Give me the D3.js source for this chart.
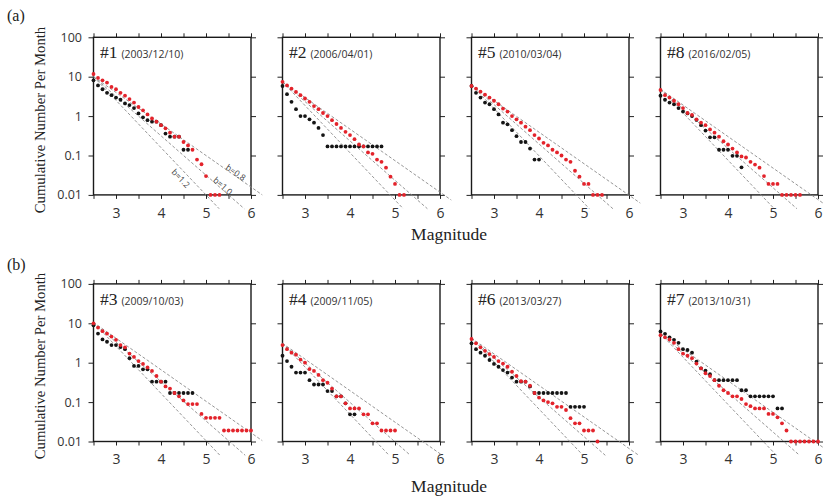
<!DOCTYPE html>
<html>
<head>
<meta charset="utf-8">
<style>
  body { margin: 0; background: #fff; }
  svg { display: block; }
  .tick text { font-family: "Open Sans", sans-serif; fill: #333; }
  .tick line { stroke: #222; stroke-width: 1; }
  .domain { display: none; }
  .serif { font-family: "Liberation Serif", "Times New Roman", serif; fill: #222; }
</style>
</head>
<body>
<svg id="chart" width="823" height="497"></svg>
<script src="https://d3js.org/d3.v7.min.js"></script>
<script>
// magnitude bins (x categories)
var mags = [2.5, 2.6, 2.7, 2.8, 2.9, 3.0, 3.1, 3.2, 3.3, 3.4, 3.5, 3.6, 3.7, 3.8, 3.9, 4.0, 4.1, 4.2,
            4.3, 4.4, 4.5, 4.6, 4.7, 4.8, 4.9, 5.0, 5.1, 5.2, 5.3, 5.4, 5.5, 5.6, 5.7, 5.8, 5.9, 6.0];

var panelIds = ["#1", "#2", "#5", "#8", "#3", "#4", "#6", "#7"];
var panelDates = ["(2003/12/10)", "(2006/04/01)", "(2010/03/04)", "(2016/02/05)",
                  "(2009/10/03)", "(2009/11/05)", "(2013/03/27)", "(2013/10/31)"];
// cumulative number at M=2.5 where the reference b-lines start
var anchors = [10, 7.4, 6.2, 4.8, 10.5, 3.1, 4.2, 5.5];
var bValues = [0.8, 1.0, 1.2];

var xTicks = [2.5, 3, 3.5, 4, 4.5, 5, 5.5, 6];
var yTicks = [0.01, 0.1, 1, 10, 100];
var yTickLabels = ["0.01", "0.1", "1", "10", "100"];

// series start at M=2.5, one value per 0.1 magnitude bin
var red1 = [11.7, 9.3, 8.1, 7.1, 5.5, 4.8, 3.9, 3.3, 2.7, 2.2, 1.7, 1.4, 1.1, 0.87, 0.72, 0.59, 0.49, 0.38,
            0.30, 0.30, 0.22, 0.18, 0.14, 0.079, 0.060, 0.030, 0.01, 0.01, 0.01];
var black1 = [8.1, 6.0, 4.8, 3.9, 3.4, 2.95, 2.6, 2.1, 1.9, 1.6, 1.17, 0.93, 0.79, 0.72, 0.72, 0.59, 0.36, 0.30,
              0.30, 0.30, 0.14, 0.14];

var red2 = [7.4, 6.0, 5.0, 4.1, 3.4, 2.8, 2.3, 1.8, 1.5, 1.2, 1.0, 0.79, 0.63, 0.50, 0.40, 0.33, 0.26, 0.19,
            0.17, 0.12, 0.11, 0.079, 0.069, 0.049, 0.029, 0.019, 0.01, 0.01];
var black2 = [5.8, 3.6, 2.3, 1.5, 1.0, 1.0, 0.83, 0.68, 0.50, 0.33, 0.17, 0.17, 0.17, 0.17, 0.17, 0.17, 0.17,
              0.17, 0.17, 0.17, 0.17, 0.17, 0.17];

var red5 = [5.8, 5.0, 4.2, 3.5, 2.95, 2.45, 2.0, 1.55, 1.3, 1.0, 0.83, 0.68, 0.54, 0.44, 0.33, 0.27, 0.21, 0.18,
            0.14, 0.12, 0.10, 0.079, 0.069, 0.041, 0.029, 0.019, 0.019, 0.01, 0.01, 0.01];
var black5 = [5.8, 3.9, 2.95, 2.2, 2.0, 1.5, 1.1, 0.68, 0.62, 0.44, 0.31, 0.22, 0.22, 0.15, 0.079, 0.079];

var red8 = [4.6, 3.4, 2.95, 2.45, 2.0, 1.6, 1.2, 1.07, 0.83, 0.68, 0.59, 0.46, 0.38, 0.30, 0.23, 0.19, 0.15, 0.12,
            0.095, 0.089, 0.069, 0.059, 0.049, 0.030, 0.019, 0.019, 0.019, 0.01, 0.01, 0.01, 0.01, 0.01];
var black8 = [3.3, 2.6, 2.2, 2.0, 1.6, 1.3, 1.17, 1.0, 0.8, 0.59, 0.43, 0.29, 0.29, 0.14, 0.14, 0.14, 0.098, 0.098, 0.05];

var red3 = [10, 7.8, 6.3, 5.5, 4.6, 3.8, 2.8, 2.45, 1.7, 1.4, 1.1, 0.93, 0.76, 0.62, 0.46, 0.33, 0.25, 0.22,
            0.17, 0.14, 0.11, 0.089, 0.089, 0.089, 0.05, 0.04, 0.04, 0.04, 0.04, 0.019, 0.019, 0.019, 0.019,
            0.019, 0.019, 0.019];
var black3 = [8.9, 5.5, 3.9, 3.4, 2.8, 2.8, 2.5, 2.2, 1.3, 0.83, 0.83, 0.68, 0.68, 0.33, 0.33, 0.33, 0.33, 0.17,
              0.17, 0.17, 0.17, 0.17, 0.17];

var red4 = [2.8, 2.2, 1.8, 1.6, 1.2, 1.0, 0.69, 0.62, 0.49, 0.36, 0.31, 0.22, 0.14, 0.14, 0.093, 0.069, 0.069,
            0.069, 0.049, 0.049, 0.029, 0.029, 0.019, 0.019, 0.019, 0.019];
var black4 = [1.5, 1.1, 0.79, 0.56, 0.56, 0.56, 0.36, 0.28, 0.28, 0.28, 0.19, 0.19, 0.14, 0.14, 0.093, 0.049, 0.049];

var red6 = [4.0, 3.1, 2.45, 2.0, 1.66, 1.4, 1.1, 0.95, 0.79, 0.59, 0.46, 0.34, 0.33, 0.26, 0.17, 0.13, 0.11, 0.10,
            0.093, 0.076, 0.076, 0.063, 0.039, 0.029, 0.029, 0.019, 0.019, 0.019, 0.01];
var black6 = [3.1, 2.2, 1.8, 1.5, 1.17, 0.93, 0.79, 0.65, 0.56, 0.42, 0.33, 0.33, 0.33, 0.25, 0.17, 0.17, 0.17,
              0.17, 0.17, 0.17, 0.17, 0.17, 0.076, 0.076, 0.076, 0.076];

var red7 = [5.0, 4.4, 3.9, 3.2, 2.2, 1.7, 1.5, 1.3, 0.95, 0.72, 0.54, 0.46, 0.36, 0.26, 0.20, 0.17, 0.14, 0.14,
            0.12, 0.089, 0.079, 0.069, 0.069, 0.069, 0.05, 0.05, 0.041, 0.029, 0.019, 0.01, 0.01, 0.01, 0.01,
            0.01, 0.01, 0.01];
var black7 = [6.2, 5.4, 4.4, 3.8, 3.2, 2.2, 2.1, 1.8, 1.07, 0.72, 0.63, 0.51, 0.36, 0.36, 0.36, 0.36, 0.36, 0.36,
              0.20, 0.20, 0.14, 0.14, 0.14, 0.14, 0.14, 0.14, 0.069, 0.069];

var redSeries = [red1, red2, red5, red8, red3, red4, red6, red7];
var blackSeries = [black1, black2, black5, black8, black3, black4, black6, black7];

var svg = d3.select("#chart");
var pw = 157.5, ph = 157.6;
var colX = [93.5, 282.5, 471.5, 660.5],
    rowY = [37.3, 283.9];
var serif = "'Liberation Serif', 'Times New Roman', serif";

var x = d3.scaleLinear().domain([2.5, 6]).range([0, pw]);
var y = d3.scaleLog().domain([0.01, 100]).range([ph, 0]);

var line = d3.line()
    .x(function(d) { return x(d.m); })
    .y(function(d) { return y(d.n); });

function toPoints(arr) {
  return arr.map(function(v, i) { return {m: mags[i], n: v}; });
}

panelIds.forEach(function(id, i) {
  var col = i % 4, row = Math.floor(i / 4);
  var g = svg.append("g").attr("transform", "translate(" + colX[col] + "," + rowY[row] + ")");

  // axes on all four sides, ticks outward
  g.append("g")
      .attr("transform", "translate(0," + ph + ")")
      .call(d3.axisBottom(x).tickValues(xTicks).tickSize(4).tickPadding(9)
        .tickFormat(function(d) { return Number.isInteger(d) ? d : ""; }))
      .selectAll("text").style("font-size", "14px");
  g.append("g")
      .call(d3.axisTop(x).tickValues(xTicks).tickSize(4).tickFormat(""));
  var left = g.append("g")
      .call(d3.axisLeft(y).tickValues(yTicks).tickSize(5).tickPadding(6.5)
        .tickFormat(function(d, k) { return col === 0 ? yTickLabels[k] : ""; }));
  left.selectAll("text").style("font-size", "12.5px");
  g.append("g")
      .attr("transform", "translate(" + pw + ",0)")
      .call(d3.axisRight(y).tickValues(yTicks).tickSize(5).tickFormat(""));

  g.append("rect")
      .attr("width", pw)
      .attr("height", ph)
      .attr("fill", "none")
      .attr("stroke", "#1a1a1a")
      .attr("stroke-width", 1.4);

  // reference b-value lines
  var a = Math.log10(anchors[i]);
  bValues.forEach(function(b) {
    var mEnd = Math.min(6.25, 2.5 + (a + 2.35) / b);
    var pts = [{m: 2.5, n: anchors[i]}, {m: mEnd, n: Math.pow(10, a - b * (mEnd - 2.5))}];
    g.append("path")
        .datum(pts)
        .attr("fill", "none")
        .attr("stroke", "#8a8a8a")
        .attr("stroke-width", 0.9)
        .attr("stroke-dasharray", "3,2")
        .attr("d", line);
  });

  if (i === 0) {
    var labelM = [5.62, 5.33, 4.55], labelOff = [-3, -3, 7];
    bValues.forEach(function(b, k) {
      var m = labelM[k];
      var px = x(m), py = y(Math.pow(10, a - b * (m - 2.5)));
      var ang = Math.atan2(y(Math.pow(10, a - b)) - y(anchors[i]), x(3.5) - x(2.5)) * 180 / Math.PI;
      g.append("text")
          .attr("transform", "translate(" + px + "," + py + ") rotate(" + ang + ") translate(0," + labelOff[k] + ")")
          .attr("text-anchor", "middle")
          .attr("dy", "0.35em")
          .style("font-family", "'Open Sans', sans-serif")
          .style("font-size", "8.5px")
          .style("fill", "#444")
          .text("b=" + b.toFixed(1));
    });
  }

  g.selectAll("circle.k")
      .data(toPoints(blackSeries[i]))
      .enter().append("circle")
      .attr("class", "k")
      .attr("cx", function(d) { return x(d.m); })
      .attr("cy", function(d) { return y(d.n); })
      .attr("r", 1.9)
      .attr("fill", "#151515");

  g.selectAll("circle.r")
      .data(toPoints(redSeries[i]))
      .enter().append("circle")
      .attr("class", "r")
      .attr("cx", function(d) { return x(d.m); })
      .attr("cy", function(d) { return y(d.n); })
      .attr("r", 1.9)
      .attr("fill", "#e3232b");

  var t = g.append("text").attr("x", 6.5).attr("y", 21);
  t.append("tspan")
      .style("font-family", serif)
      .style("font-size", "17.5px")
      .style("fill", "#222")
      .text(id);
  t.append("tspan")
      .attr("dx", 4)
      .style("font-family", "'Open Sans', sans-serif")
      .style("font-size", "10.5px")
      .style("fill", "#333")
      .text(panelDates[i]);
});

// row letters, axis titles
[["(a)", 21], ["(b)", 270]].forEach(function(r) {
  svg.append("text").attr("class", "serif").attr("x", 7).attr("y", r[1])
      .style("font-size", "16px").text(r[0]);
});
[120, 366].forEach(function(cy) {
  svg.append("text").attr("class", "serif")
      .attr("transform", "translate(45," + cy + ") rotate(-90)")
      .attr("text-anchor", "middle")
      .style("font-size", "14.7px")
      .text("Cumulative Number Per Month");
});
[239.5, 492].forEach(function(by) {
  svg.append("text").attr("class", "serif")
      .attr("x", 449).attr("y", by)
      .attr("text-anchor", "middle")
      .style("font-size", "17.5px")
      .text("Magnitude");
});
</script>
</body>
</html>
